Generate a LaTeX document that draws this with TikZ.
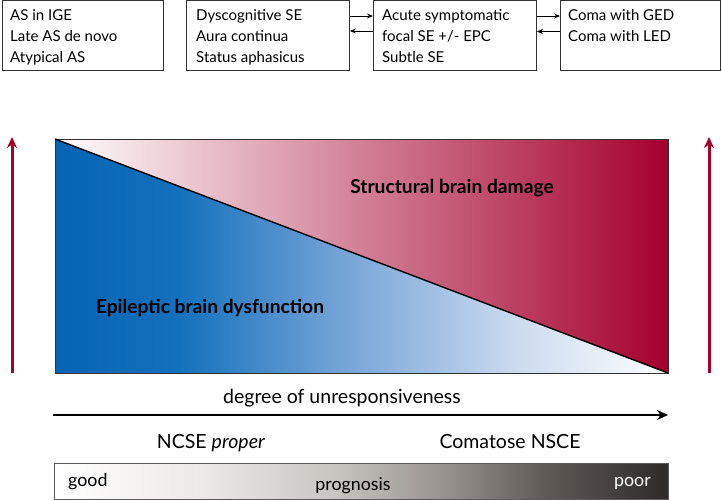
\documentclass[tikz,border=0pt]{standalone}
\usepackage{fontspec}
\setmainfont{Lato}
\usetikzlibrary{arrows.meta,calc}
\definecolor{sered}{RGB}{165,0,45}
\definecolor{seblue}{RGB}{5,100,178}
\definecolor{bl1}{RGB}{18,112,188}
\definecolor{bl2}{RGB}{115,162,214}
\definecolor{bl3}{RGB}{205,220,240}
\definecolor{framegrey}{RGB}{50,50,50}
\definecolor{g1}{RGB}{236,234,232}
\definecolor{g2}{RGB}{200,196,192}
\definecolor{g3}{RGB}{150,145,140}
\definecolor{g4}{RGB}{95,90,86}
\definecolor{g5}{RGB}{46,42,40}
\pgfdeclarehorizontalshading{greybar}{100bp}{color(0bp)=(white); color(25bp)=(white); color(37bp)=(g1); color(48bp)=(g2); color(57bp)=(g3); color(65bp)=(g4); color(75bp)=(g5); color(100bp)=(g5)}
\pgfdeclarehorizontalshading{bluefade}{100bp}{color(0bp)=(seblue); color(25bp)=(seblue); color(35bp)=(bl1); color(48bp)=(bl2); color(63bp)=(bl3); color(75bp)=(white); color(100bp)=(white)}
\tikzset{
  topbox/.style={draw=framegrey, line width=0.9pt, minimum width=#1, minimum height=70pt, inner sep=0pt, anchor=north west},
  boxtext/.style={anchor=base west, inner sep=0pt, font=\fontsize{15}{17}\selectfont},
  linkarrow/.style={-{Stealth[length=6pt,width=5pt]}, line width=0.8pt},
  redarrow/.style={-{Stealth[length=11pt,width=10pt]}, line width=3pt, draw=sered},
  bigtext/.style={inner sep=0pt, anchor=base, font=\fontsize{19.2}{21}\selectfont\bfseries},
  midtext/.style={inner sep=0pt, anchor=base, font=\fontsize{19.5}{21}\selectfont},
  bartext/.style={inner sep=0pt, font=\fontsize{17.8}{19}\selectfont},
}
\begin{document}
\begin{tikzpicture}[x=1pt,y=-1pt]
\useasboundingbox (0,0) rectangle (722,500);
% top boxes
\node[topbox=161pt] (b1) at (2,0.5) {};
\node[topbox=163pt] (b2) at (186,0.5) {};
\node[topbox=163pt] (b3) at (373,0.5) {};
\node[topbox=160pt] (b4) at (560,0.5) {};
\node[boxtext] (t11) at (10,21) {AS in IGE};
\node[boxtext] (t12) at (10,42) {Late AS de novo};
\node[boxtext] (t13) at (10,63) {Atypical AS};
\node[boxtext] (t21) at (196,21) {Dyscognitive SE};
\node[boxtext] (t22) at (196,42) {Aura continua};
\node[boxtext] (t23) at (196,63) {Status aphasicus};
\node[boxtext] (t31) at (382,21) {Acute symptomatic};
\node[boxtext] (t32) at (382,42) {focal SE +/- EPC};
\node[boxtext] (t33) at (382,63) {Subtle SE};
\node[boxtext] (t41) at (568,21) {Coma with GED};
\node[boxtext] (t42) at (568,42) {Coma with LED};
\draw[linkarrow] ($(b2.north east)+(0,15.5)$) -- ($(b3.north west)+(0,15.5)$);
\draw[linkarrow] ($(b3.north west)+(0,30.5)$) -- ($(b2.north east)+(0,30.5)$);
\draw[linkarrow] ($(b3.north east)+(0,15.5)$) -- ($(b4.north west)+(0,15.5)$);
\draw[linkarrow] ($(b4.north west)+(0,31)$) -- ($(b3.north east)+(0,31)$);
% main panel
\coordinate (tl) at (55,139);
\coordinate (tr) at (668,139);
\coordinate (bl) at (55,373);
\coordinate (br) at (668,373);
\shade[left color=white, right color=sered] (tl) -- (tr) -- (br) -- cycle;
\shade[shading=bluefade] (tl) -- (br) -- (bl) -- cycle;
\draw[framegrey, line width=0.9pt] (tl) rectangle (br);
\draw[black, line width=1.4pt] (tl) -- (br);
\node[bigtext] (sbd) at (452,193) {Structural brain damage};
\node[bigtext] (ebd) at (210,313) {Epileptic brain dysfunction};
% red arrows
\coordinate (la0) at (12,373);
\coordinate (la1) at (12,137);
\coordinate (ra0) at (709,373);
\coordinate (ra1) at (709,137);
\draw[redarrow] (la0) -- (la1);
\draw[redarrow] (ra0) -- (ra1);
% unresponsiveness axis
\node[midtext] (deg) at (342,403) {degree of unresponsiveness};
\coordinate (ax0) at (53,415);
\coordinate (ax1) at (668,415);
\draw[line width=2.8pt, -{Stealth[length=11pt,width=10pt]}] (ax0) -- (ax1);
\node[midtext] (ncse) at (211,448) {NCSE \textit{proper}};
\node[midtext] (coma) at (510,448) {Comatose NSCE};
% prognosis bar
\coordinate (p0) at (54,463);
\coordinate (p1) at (668,499.5);
\shade[shading=greybar] (p0) rectangle (p1);
\draw[framegrey!80, line width=0.9pt] (p0) rectangle (p1);
\node[bartext, anchor=base west] (good) at (68,486) {good};
\node[bartext, anchor=base] (prog) at (353,490) {prognosis};
\node[bartext, anchor=base east, text=white] (poor) at (651,486) {poor};
\end{tikzpicture}
\end{document}
